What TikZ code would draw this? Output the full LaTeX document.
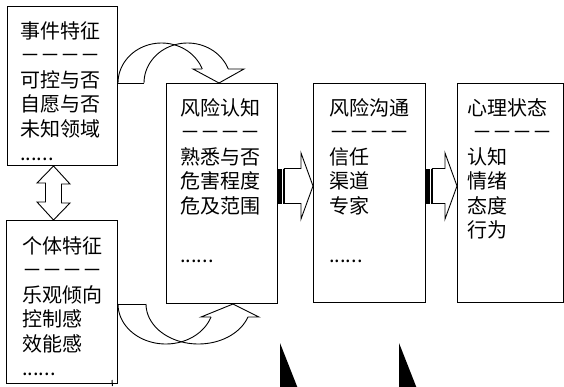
\documentclass[tikz,border=0pt]{standalone}
\usepackage{fontspec}
\setmainfont{Noto Sans CJK SC}
\usetikzlibrary{calc}

\tikzset{
  box/.style={draw, line width=1pt, inner sep=0pt, anchor=north west},
  txt/.style={anchor=north west, inner sep=0pt, align=left, font=\fontsize{20pt}{24.5pt}\selectfont},
  blk/.style={draw, line width=0.9pt},
}

% striped block arrow: tail on a box edge, tip on the next box
\newcommand{\stripearrow}[2]{%
  \fill ($(#1)+(0,-17.5)$) rectangle ($(#1)+(3.5,17.5)$);
  \fill ($(#1)+(4.8,-17.5)$) rectangle ($(#1)+(6.3,17.5)$);
  \draw[blk] ($(#1)+(6.3,-17.5)$) -- ($(#2)+(-12,-17.5)$) -- ($(#2)+(-12,-33)$) -- (#2)
    -- ($(#2)+(-12,33)$) -- ($(#2)+(-12,17.5)$) -- ($(#1)+(6.3,17.5)$) -- cycle;
}

\begin{document}
\begin{tikzpicture}[x=1pt, y=-1pt]
\clip (0,0) rectangle (564,386);

% boxes
\node[box, minimum width=110pt, minimum height=159pt] (shijian) at (7,6) {};
\node[box, minimum width=111pt, minimum height=163pt] (geti) at (6,220) {};
\node[box, minimum width=111pt, minimum height=220pt] (renzhi) at (166,83) {};
\node[box, minimum width=112pt, minimum height=219pt] (goutong) at (313,83) {};
\node[box, minimum width=106pt, minimum height=219pt] (xinli) at (457,83) {};

\node[txt] (shijiantxt) at (20,21) {事件特征\\－－－－\\可控与否\\自愿与否\\未知领域\\......};
\node[txt] (getitxt) at (22,236) {个体特征\\－－－－\\乐观倾向\\控制感\\效能感\\......};
\node[txt] (renzhitxt) at (180,98) {风险认知\\－－－－\\熟悉与否\\危害程度\\危及范围\\[24.5pt]......};
\node[txt] (goutongtxt) at (329,98) {风险沟通\\－－－－\\信任\\渠道\\专家\\[24.5pt]......};
\node[txt] (xinlitxt) at (467,98) {心理状态\\\hspace*{5pt}－－－－\\认知\\情绪\\态度\\行为};

% up-down arrow
\coordinate (d1) at ([xshift=-9pt]shijian.south);
\draw[blk] (d1) -- ++(16.5,18) -- ++(-8.5,0) -- ++(0,19) -- ++(8.5,0) -- (d1 |- geti.north)
  -- ++(-16.5,-18) -- ++(8.5,0) -- ++(0,-19) -- ++(-8.5,0) -- cycle;

% curved arrows
\coordinate (c1) at (shijian.east |- renzhi.north);
\coordinate (c2) at (geti.east |- renzhi.south);
\begin{scope}[shift={(c1)}]
\draw[blk] (0,0) -- (26,0);
\draw[blk] plot[domain=180:339.5, samples=40] ({43.5+43.5*cos(\x)}, {40*sin(\x)});
\draw[blk] plot[domain=180:339.5, samples=40] ({69.5+43.5*cos(\x)}, {40*sin(\x)});
\draw[blk] (84.2,-14) -- (75,-14) -- (101,0) -- (126,-14) -- (110.2,-14);
\end{scope}
\begin{scope}[shift={(c2)}]
\draw[blk] (0,0) -- (28,0);
\draw[blk] plot[domain=19:180, samples=40] ({47.8+47.8*cos(\x)}, {40*sin(\x)});
\draw[blk] plot[domain=19:180, samples=40] ({80.4+52.4*cos(\x)}, {40*sin(\x)});
\draw[blk] (93,13) -- (83,13) -- (115,0) -- (141,13) -- (129.9,13);
\end{scope}

% striped arrows
\coordinate (s1) at ($(renzhi.north east)+(0,103)$);
\coordinate (t1) at ($(goutong.north west)+(0,103)$);
\coordinate (s2) at ($(goutong.north east)+(0,103)$);
\coordinate (t2) at ($(xinli.north west)+(0,103)$);
\stripearrow{s1}{t1}
\stripearrow{s2}{t2}

% black wedges at the bottom
\fill (280,343) -- (280,390) -- (298.5,390) -- cycle;
\fill (399,343) -- (399,390) -- (417.5,390) -- cycle;
\draw[line width=1pt] (112,380) -- (112.5,386);
\end{tikzpicture}
\end{document}
